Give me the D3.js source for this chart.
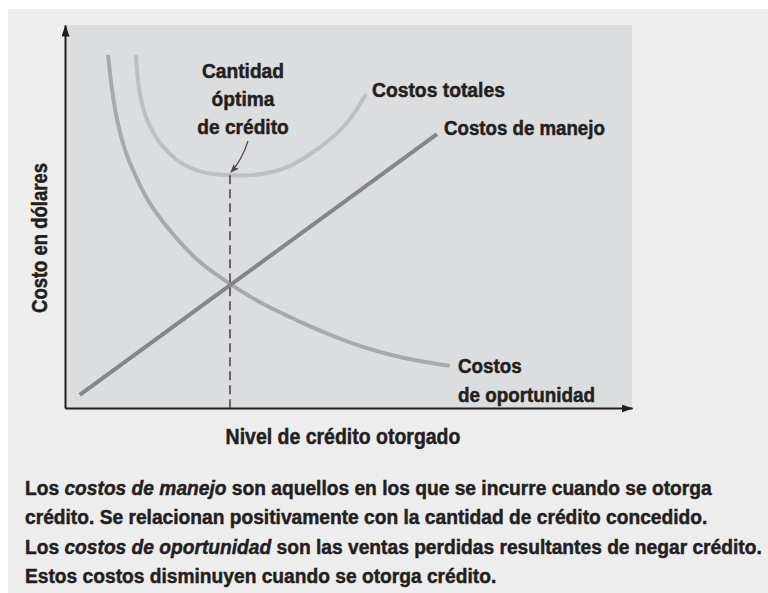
<!DOCTYPE html>
<html>
<head>
<meta charset="utf-8">
<script src="https://cdn.jsdelivr.net/npm/d3@7"></script>
<style>
  body { margin: 0; background: #fff; }
  svg { display: block; }
  text { font-family: "Liberation Sans", Arial, sans-serif; font-weight: bold; fill: #231f20; stroke: #231f20; stroke-width: 0.5px; }
</style>
</head>
<body>
<script>
// chart size
var W = 768, H = 593;
var panel = {left: 65, right: 632, top: 25, bottom: 408};

// data (x = nivel de crédito, y = costo), both 0..100
var manejoX = [2.6, 65.6];
var manejoY = [3.4, 71.5];

var oportX = [7.6, 8.3, 9.2, 10.6, 12.4, 14.6, 17.3, 20.3, 23.8, 29.1, 34.9, 41.5, 47.3, 53.1, 59.1, 64.4, 67.9];
var oportY = [92.2, 83.0, 75.2, 67.4, 60.8, 54.3, 48.6, 43.3, 38.1, 32.4, 27.2, 22.5, 18.8, 15.7, 13.3, 11.8, 11.0];

var totalX = [12.5, 13.2, 14.5, 16.8, 20.3, 24.3, 29.1, 33.2, 39.2, 45.0, 49.7, 53.1];
var totalY = [92.2, 82.2, 75.2, 69.2, 64.2, 61.6, 60.8, 60.8, 62.9, 68.1, 74.4, 82.0];

var optimoX = 29.1, optimoY = 60.8;

var seriesNames = ["Costos de manejo", "Costos de oportunidad", "Costos totales"];
var seriesColors = ["#858688", "#a8a9ab", "#bebfc1"];

var xTitle = "Nivel de crédito otorgado";
var yTitle = "Costo en dólares";

var caption = [
  [["Los ", false], ["costos de manejo", true], [" son aquellos en los que se incurre cuando se otorga", false]],
  [["crédito. Se relacionan positivamente con la cantidad de crédito concedido.", false]],
  [["Los ", false], ["costos de oportunidad", true], [" son las ventas perdidas resultantes de negar crédito.", false]],
  [["Estos costos disminuyen cuando se otorga crédito.", false]]
];

var svg = d3.select("body").append("svg")
  .attr("width", W).attr("height", H);

var defs = svg.append("defs");
defs.append("marker")
  .attr("id", "axArrow")
  .attr("viewBox", "0 0 12 8")
  .attr("refX", 11).attr("refY", 4)
  .attr("markerWidth", 12).attr("markerHeight", 8)
  .attr("markerUnits", "userSpaceOnUse")
  .attr("orient", "auto")
  .append("path").attr("d", "M0,0L12,4L0,8Z").attr("fill", "#231f20");
defs.append("marker")
  .attr("id", "smallArrow")
  .attr("viewBox", "0 0 10 8")
  .attr("refX", 9).attr("refY", 4)
  .attr("markerWidth", 9).attr("markerHeight", 7)
  .attr("markerUnits", "userSpaceOnUse")
  .attr("orient", "auto")
  .append("path").attr("d", "M0,0L10,4L0,8L2,4Z").attr("fill", "#4a4a4c");

// outer background
svg.append("rect").attr("x", 8).attr("y", 9).attr("width", W - 8).attr("height", H - 9)
  .attr("fill", "#ededed");

var x = d3.scaleLinear().domain([0, 100]).range([panel.left, panel.right]);
var y = d3.scaleLinear().domain([0, 100]).range([panel.bottom, panel.top]);

// plot panel
svg.append("rect")
  .attr("x", x(0)).attr("y", y(100))
  .attr("width", x(100) - x(0)).attr("height", y(0) - y(100))
  .attr("fill", "#dcdddf");

var line = d3.line()
  .x(function(d) { return x(d[0]); })
  .y(function(d) { return y(d[1]); })
  .curve(d3.curveCatmullRom.alpha(0.5));

var series = [
  d3.zip(manejoX, manejoY),
  d3.zip(oportX, oportY),
  d3.zip(totalX, totalY)
];

// draw lighter curves first
[2, 1, 0].forEach(function(i) {
  svg.append("path")
    .datum(series[i])
    .attr("d", line)
    .attr("fill", "none")
    .attr("stroke", seriesColors[i])
    .attr("stroke-width", 4);
});

// dashed line at the optimum
svg.append("line")
  .attr("x1", x(optimoX)).attr("x2", x(optimoX))
  .attr("y1", y(optimoY)).attr("y2", y(0))
  .attr("stroke", "#4a4a4c")
  .attr("stroke-width", 1.6)
  .attr("stroke-dasharray", "9,5");

// axes (no ticks), with arrow heads
var xAxis = svg.append("g").attr("transform", "translate(0," + y(0) + ")")
  .call(d3.axisBottom(x).tickValues([]).tickSizeOuter(0));
var yAxis = svg.append("g").attr("transform", "translate(" + x(0) + ",0)")
  .call(d3.axisLeft(y).tickValues([]).tickSizeOuter(0));
[xAxis, yAxis].forEach(function(a) {
  a.select(".domain")
    .attr("stroke", "#231f20")
    .attr("stroke-width", 2)
    .attr("marker-end", "url(#axArrow)");
});

// condensed look: draw text then squeeze it horizontally to the width seen in the picture
function label(px, py, lines, opts) {
  var g = svg.append("g");
  var t = g.append("text")
    .attr("text-anchor", opts.anchor || "start")
    .style("font-size", (opts.size || 21) + "px");
  lines.forEach(function(parts, i) {
    if (typeof parts === "string") parts = [[parts, false]];
    parts.forEach(function(p, j) {
      var s = t.append("tspan").text(p[0]);
      if (p[1]) s.style("font-style", "italic");
      if (j === 0) s.attr("x", 0).attr("y", i * (opts.lead || 28));
    });
  });
  var ref = opts.fitLine || 0;
  var spans = t.selectAll("tspan").nodes();
  // width of the reference line
  var w = 0, line = -1;
  spans.forEach(function(n) {
    if (n.hasAttribute("y")) line++;
    if (line === ref) w += n.getComputedTextLength();
  });
  var sx = opts.width / w;
  g.attr("transform", "translate(" + px + "," + py + ")" + (opts.rotate ? " rotate(" + opts.rotate + ")" : "") + " scale(" + sx + ",1)");
  return g;
}

// annotation
label(243, 78, ["Cantidad", "óptima", "de crédito"], {anchor: "middle", width: 82});
svg.append("path")
  .attr("d", "M" + 248 + "," + 141 + " Q" + 242 + "," + 160 + " " + (x(optimoX) + 1) + "," + (y(optimoY) - 3))
  .attr("fill", "none")
  .attr("stroke", "#4a4a4c")
  .attr("stroke-width", 1.2)
  .attr("marker-end", "url(#smallArrow)");

// series labels
label(372, 97, [seriesNames[2]], {width: 133});
label(444, 135, [seriesNames[0]], {width: 161});
label(458, 373, ["Costos", "de oportunidad"], {width: 137, fitLine: 1, lead: 29});

// axis titles
label(47, 238, [yTitle], {anchor: "middle", width: 150, rotate: -90, size: 22});
label(343, 444, [xTitle], {anchor: "middle", width: 235, size: 22});

// caption
label(25, 495, caption, {size: 21, width: 737, fitLine: 2, lead: 29.5});
</script>
</body>
</html>
